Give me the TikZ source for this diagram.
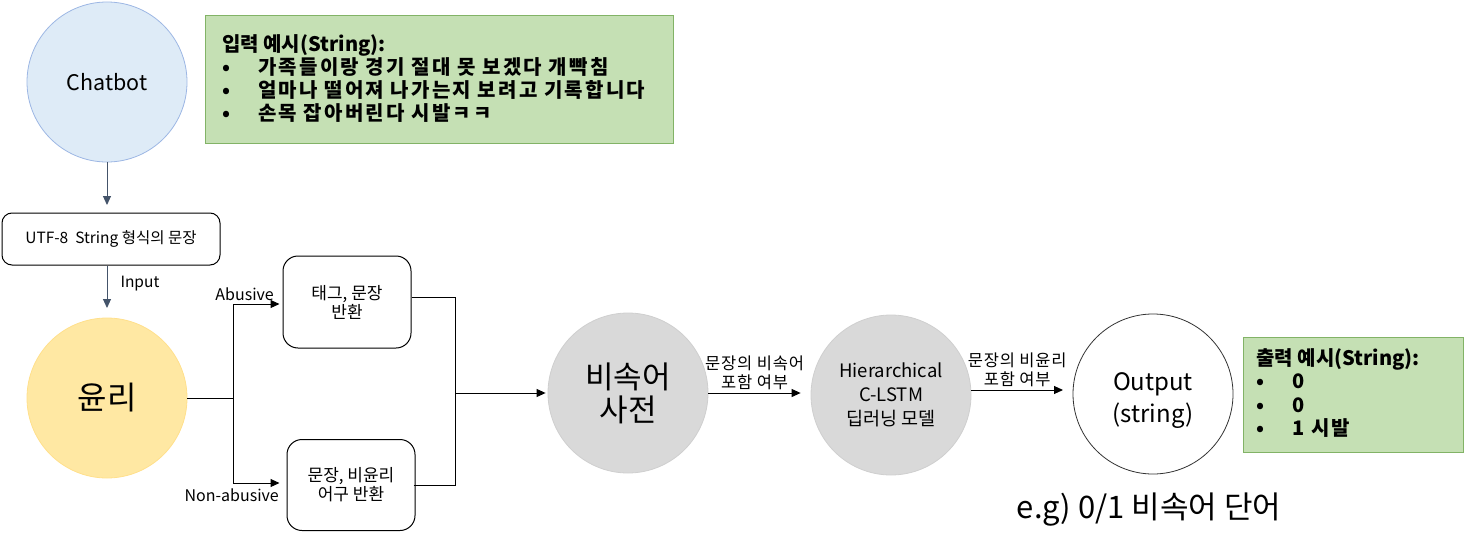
\documentclass[tikz,border=0pt]{standalone}
\usepackage{fontspec}
\setmainfont{Noto Sans CJK KR}
\usetikzlibrary{arrows.meta}
\definecolor{greenfill}{HTML}{C5E0B4}
\definecolor{greenline}{HTML}{82B366}
\definecolor{bluefill}{HTML}{DEEBF7}
\definecolor{blueline}{HTML}{9DB7E4}
\definecolor{yellowfill}{HTML}{FFE8A3}
\definecolor{yellowline}{HTML}{FFE08C}
\definecolor{grayfill}{HTML}{D9D9D9}
\definecolor{grayline}{HTML}{CFCFCF}
\definecolor{slate}{HTML}{44546A}
\newcommand{\fs}[2]{\fontsize{#1}{#2}\selectfont}
\newcommand{\bul}{\makebox[36pt][l]{•}}
\newcommand{\wide}[1]{{\addfontfeatures{LetterSpace=11}#1}}
\newcommand{\lwide}[1]{{\addfontfeatures{LetterSpace=5}#1}}
\begin{document}
\begin{tikzpicture}[x=1pt,y=-1pt,
  circ/.style={circle, inner sep=0pt, minimum size=160pt, align=center, line width=0.8pt},
  rbox/.style={draw=black, rounded corners=12pt, line width=1pt, align=center, inner sep=0pt},
  gbox/.style={draw=greenline, fill=greenfill, line width=1pt, inner sep=0pt},
  arr/.style={line width=1pt, -{Triangle[length=9pt,width=8pt]}},
  sarr/.style={draw=slate, line width=1pt, -{Triangle[length=9pt,width=8pt]}},
  plain/.style={line width=1pt},
  lbl/.style={inner sep=0pt, align=center}]
\useasboundingbox (0,0) rectangle (1471,543);

% nodes
\node[circ, draw=blueline, fill=bluefill, font=\fs{21.5}{25}] (chat) at (107,82) {Chatbot};
\node[gbox, minimum width=468pt, minimum height=128pt, anchor=north west] (inbox) at (205,15) {};
\node[lbl, anchor=west, align=left, font=\fs{20}{23}\bfseries] (intext) at (222,79)
  {입력 예시(String):\\
   \bul \wide{가족들이랑 경기 절대 못 보겠다 개빡침}\\
   \bul \wide{얼마나 떨어져 나가는지 보려고 기록합니다}\\
   \bul \wide{손목 잡아버린다 시발ㅋㅋ}};

\node[rbox, minimum width=218pt, minimum height=52pt, rounded corners=10pt, font=\fs{15.5}{18}] (utf) at (111,239) {UTF-8\ \ String 형식의 문장};

\node[circ, draw=yellowline, fill=yellowfill, font=\fs{32}{36}] (yunri) at (107,398) {윤리};

\node[rbox, minimum width=128pt, minimum height=92pt, rounded corners=15pt, font=\fs{17}{19}] (box1) at (347,302) {태그, 문장\\반환};
\node[rbox, minimum width=128pt, minimum height=91pt, rounded corners=15pt, font=\fs{17}{19}] (box2) at (351,485) {문장, 비윤리\\어구 반환};

\node[circ, draw=grayline, fill=grayfill, font=\fs{31}{33}] (bisok) at (628,393) {비속어\\사전};
\node[circ, draw=grayline, fill=grayfill, font=\fs{18.5}{24}] (hier) at (891,395) {Hierarchical\\C-LSTM\\딥러닝 모델};
\node[circ, draw=black!80, fill=white, font=\fs{24}{32}] (out) at (1153,394) {\rule{0pt}{30pt}Output\\(string)};

\node[gbox, minimum width=220pt, minimum height=115pt, anchor=north west] (outbox) at (1243,337) {};
\node[lbl, anchor=west, align=left, font=\fs{20}{23.3}\bfseries] (outtext) at (1256,393)
  {출력 예시(String):\\
   \bul 0\\
   \bul 0\\
   \bul \wide{1 시발}};

\node[lbl, font=\fs{31}{34}] (eg) at (1149,510) {e.g) 0/1 비속어 단어};

% coordinates
\coordinate (fork) at (233,398);
\coordinate (merge) at (455,393);
\coordinate (outin) at (1063,390);
\coordinate (utfin) at (107,205);
\coordinate (yunin) at (107,308);

% connectors
\draw[sarr] (chat.south) -- (utfin);
\draw[sarr] (utf.south -| yunin) -- node[lbl, right=13pt, pos=0.42, text=black, font=\fs{15.5}{17}] (inlbl) {Input} (yunin);
\draw[plain] (yunri) -- (fork);
\draw[arr] (fork) |- ([xshift=-3pt,yshift=-2pt]box1.west);
\draw[arr] (fork) |- ([xshift=-7pt,yshift=2pt]box2.west);
\node[lbl, anchor=south east, font=\fs{16}{17}] (abl) at (274,301) {Abusive};
\node[lbl, anchor=north east, font=\fs{16}{17}] (nabl) at (279,489) {Non-abusive};
\draw[plain] ([yshift=5pt]box1.east) -| (merge);
\draw[plain] ([xshift=-2pt]box2.east) -| (merge);
\draw[arr] (merge) -- ([xshift=-2pt]bisok.west);
\draw[arr] (bisok.east) -- node[lbl, above=3pt, font=\fs{16.5}{19}] (l1) {\lwide{문장의 비속어}\\\lwide{포함 여부}} ([xshift=-10pt]hier.west |- bisok.east);
\draw[arr] (hier.east |- outin) -- node[lbl, above=3pt, font=\fs{16.5}{19}] (l2) {\lwide{문장의 비윤리}\\\lwide{포함 여부}} (outin);
\end{tikzpicture}
\end{document}
